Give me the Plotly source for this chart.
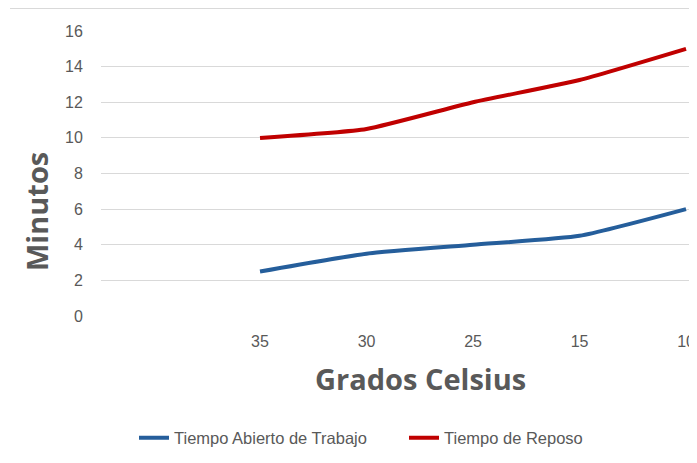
import plotly.graph_objects as go

categorias = ["35", "30", "25", "15", "10"]
tiempo_abierto = [2.5, 3.5, 4.0, 4.5, 6.0]
tiempo_reposo = [10.0, 10.5, 12.0, 13.25, 15.0]
y_ticks = [0, 2, 4, 6, 8, 10, 12, 14, 16]

# page has an 8px body margin, so the figure is 8px smaller than the window
W, H = 689, 455
L, R, T, B = 93, 0, 23, 147
PW, PH = W - L - R, H - T - B

fig = go.Figure()
fig.add_trace(go.Scatter(
    x=categorias, y=tiempo_abierto, mode="lines", name="Tiempo Abierto de Trabajo",
    line=dict(color="#255E9B", width=4, shape="spline", smoothing=0.5),
))
fig.add_trace(go.Scatter(
    x=categorias, y=tiempo_reposo, mode="lines", name="Tiempo de Reposo",
    line=dict(color="#C00000", width=4, shape="spline", smoothing=0.5),
))

gray = "#595959"
fig.update_layout(
    width=W, height=H,
    margin=dict(l=L, r=R, t=T, b=B, pad=0),
    plot_bgcolor="white", paper_bgcolor="white",
    font=dict(family="Liberation Sans, Arial", color=gray),
    showlegend=True,
    legend=dict(orientation="h", xref="container", yref="container",
                x=396 / W, y=1 - 430 / H, xanchor="center", yanchor="middle",
                font=dict(size=16.5, color=gray, family="Liberation Sans, Arial"),
                itemwidth=30, entrywidth=225, tracegroupgap=0),
    xaxis=dict(
        type="category", range=[-1.493, 4.103],
        showgrid=False, zeroline=False, showline=False,
        ticks="outside", ticklen=11, tickcolor="rgba(0,0,0,0)",
        tickfont=dict(size=16, color=gray),
    ),
    yaxis=dict(
        range=[0, 16], tickvals=y_ticks,
        showgrid=True, gridcolor="#D9D9D9", gridwidth=1,
        zeroline=False, showline=False,
        ticks="outside", ticklen=14, tickcolor="rgba(0,0,0,0)",
        tickfont=dict(size=16, color=gray),
    ),
    annotations=[
        dict(text="<b>Grados Celsius</b>", xref="paper", yref="paper",
             x=(412 - L) / PW, y=-(370 - (H - B)) / PH,
             xanchor="center", yanchor="middle", showarrow=False,
             font=dict(size=29, color=gray, family="Open Sans, Lato")),
        dict(text="<b>Minutos</b>", xref="paper", yref="paper", textangle=-90,
             x=-(L - 28) / PW, y=1 - (204 - T) / PH,
             xanchor="center", yanchor="middle", showarrow=False,
             font=dict(size=29, color=gray, family="Open Sans, Lato")),
    ],
    shapes=[
        dict(type="line", xref="paper", yref="paper",
             x0=-(L - 2) / PW, x1=1.0,
             y0=1 + (T - 0.5) / PH, y1=1 + (T - 0.5) / PH,
             line=dict(color="#D9D9D9", width=1)),
    ],
)

fig.write_html("out.html")
